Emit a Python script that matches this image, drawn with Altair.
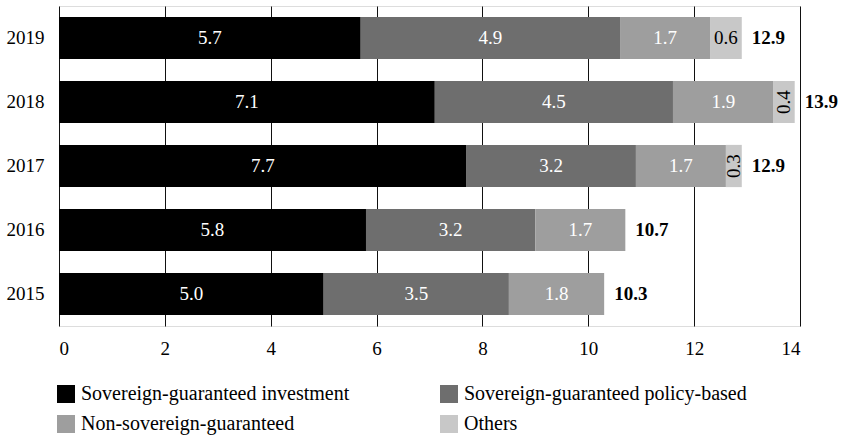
import altair as alt
import pandas as pd

years = ["2019", "2018", "2017", "2016", "2015"]
categories = ["Sovereign-guaranteed investment", "Sovereign-guaranteed policy-based",
              "Non-sovereign-guaranteed", "Others"]
sg_investment = [5.7, 7.1, 7.7, 5.8, 5.0]
sg_policy = [4.9, 4.5, 3.2, 3.2, 3.5]
non_sg = [1.7, 1.9, 1.7, 1.7, 1.8]
others = [0.6, 0.4, 0.3, 0.0, 0.0]
colors = ["#000000", "#6e6e6e", "#9e9e9e", "#c8c8c8"]
label_colors = ["white", "white", "white", "black"]
# legend fills column-wise: order so rows read inv | policy, non-sg | others
legend_order = [categories[0], categories[2], categories[1], categories[3]]
legend_colors = [colors[0], colors[2], colors[1], colors[3]]

series = [sg_investment, sg_policy, non_sg, others]
rows = []
for ci, (cat, vals) in enumerate(zip(categories, series)):
    for y, v in zip(years, vals):
        if v > 0:
            rows.append({"year": y, "cat": cat, "order": ci, "value": v,
                         "lc": label_colors[ci]})
df = pd.DataFrame(rows)

FONT = "Liberation Serif"

base = alt.Chart(df).transform_stack(
    stack="value", groupby=["year"], as_=["x0", "x1"],
    sort=[alt.SortField("order", order="ascending")]
).transform_calculate(mid="(datum.x0 + datum.x1) / 2")

yenc = alt.Y("year:N", sort=years, title=None,
             scale=alt.Scale(paddingInner=0.34, paddingOuter=0.17),
             axis=alt.Axis(domain=False, ticks=False, labelFontSize=19,
                           labelPadding=15, labelColor="#000", labelFont=FONT))

bars = base.mark_bar().encode(
    x=alt.X("x0:Q", title=None, scale=alt.Scale(domain=[0, 14], nice=False),
            axis=alt.Axis(values=[0, 2, 4, 6, 8, 10, 12, 14], grid=True, gridColor="#111",
                          gridOpacity=1, domain=False, ticks=False, labelFontSize=19,
                          labelPadding=13, labelColor="#000", labelFont=FONT, format="d")),
    x2="x1:Q",
    y=yenc,
    color=alt.Color("cat:N",
                    scale=alt.Scale(domain=legend_order, range=legend_colors),
                    legend=alt.Legend(title=None, orient="none", legendX=-3, legendY=378,
                                      columns=2, columnPadding=89, rowPadding=10,
                                      symbolType="square", symbolSize=324,
                                      symbolStrokeWidth=0, labelFontSize=20,
                                      labelFont=FONT, labelColor="#000", labelOffset=5,
                                      labelLimit=400)),
)

text_h = base.transform_filter("datum.value >= 0.5").mark_text(
    fontSize=19, font=FONT, baseline="middle", align="center"
).encode(
    x="mid:Q", y=alt.Y("year:N", sort=years),
    text=alt.Text("value:Q", format=".1f"),
    color=alt.Color("lc:N", scale=None),
)

text_v = base.transform_filter("datum.value < 0.5").mark_text(
    fontSize=19, font=FONT, baseline="middle", align="center", angle=270
).encode(
    x="mid:Q", y=alt.Y("year:N", sort=years),
    text=alt.Text("value:Q", format=".1f"),
    color=alt.Color("lc:N", scale=None),
)

totals = alt.Chart(df).transform_aggregate(
    total="sum(value)", groupby=["year"]
).mark_text(fontSize=19, font=FONT, fontWeight="bold", align="left",
            baseline="middle", dx=10, color="#000").encode(
    x="total:Q", y=alt.Y("year:N", sort=years),
    text=alt.Text("total:Q", format=".1f"),
)

chart = alt.layer(bars, text_h, text_v, totals).properties(
    width=741, height=320,
    autosize="none",
    padding={"left": 59, "top": 6, "right": 50, "bottom": 109},
).configure_view(stroke=None).configure(font=FONT)

chart.save("out.html", embed_options={"renderer": "svg", "actions": False})
